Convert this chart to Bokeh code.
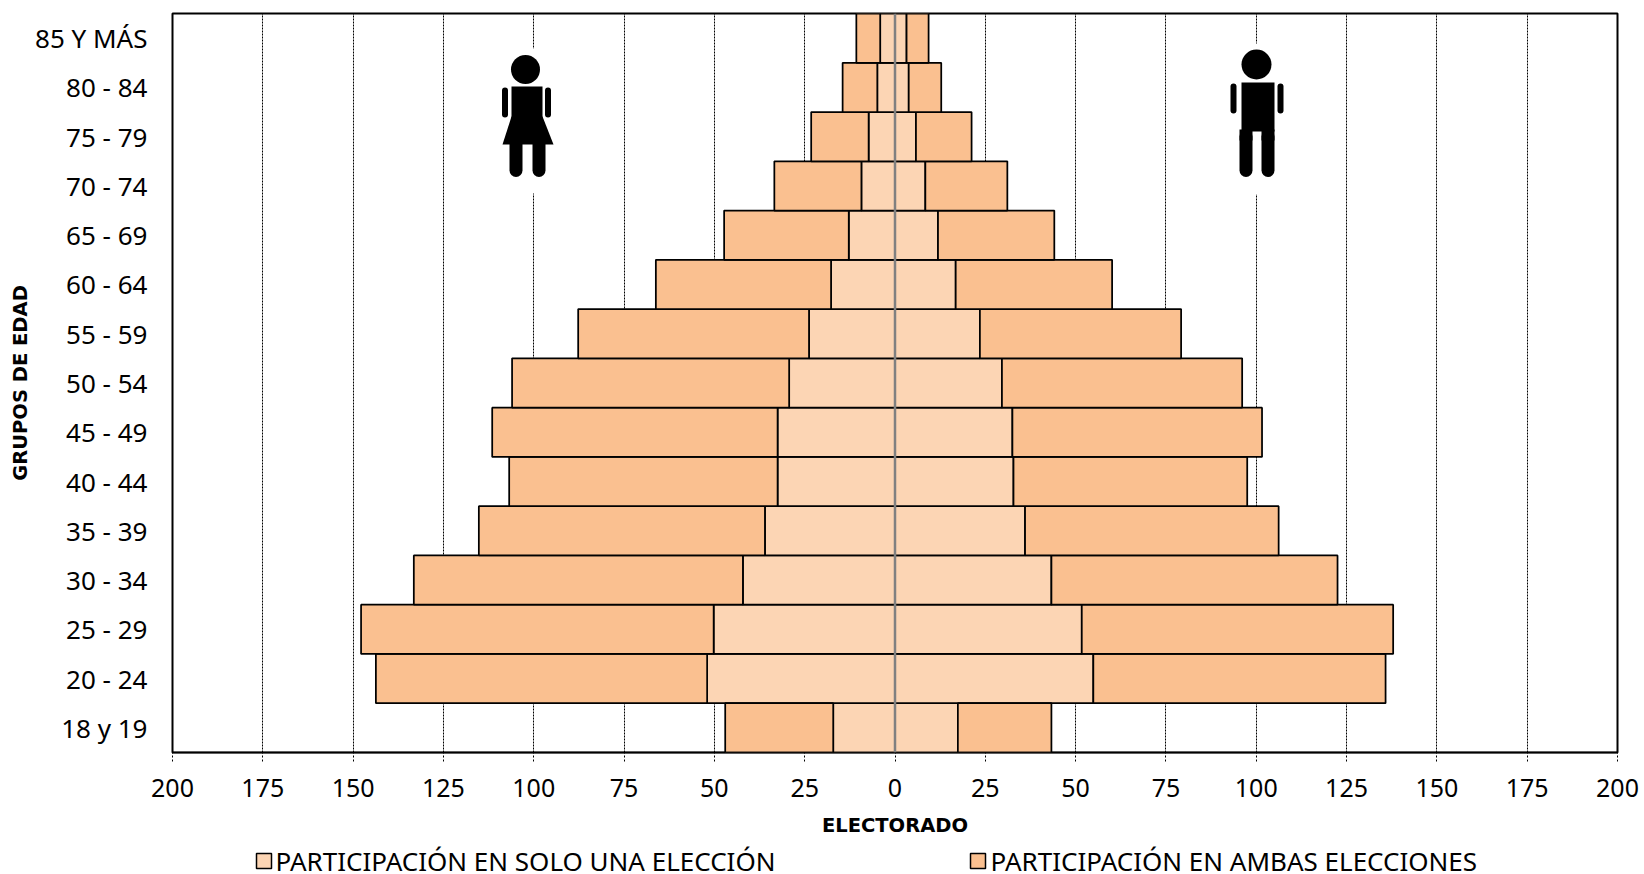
from bokeh.plotting import figure
from bokeh.embed import file_html
from bokeh.resources import INLINE
from bokeh.layouts import column
from bokeh.core.properties import value
from bokeh.models import ColumnDataSource, FixedTicker, Range1d, Span

age_groups = ["18 y 19", "20 - 24", "25 - 29", "30 - 34", "35 - 39", "40 - 44", "45 - 49", "50 - 54",
              "55 - 59", "60 - 64", "65 - 69", "70 - 74", "75 - 79", "80 - 84", "85 Y MÁS"]
women_once = [17.1, 52.0, 50.2, 42.1, 36.0, 32.5, 32.5, 29.3, 23.8, 17.7, 12.8, 9.3, 7.3, 4.9, 4.1]
women_both = [29.9, 91.7, 97.6, 91.1, 79.2, 74.3, 79.0, 76.7, 63.9, 48.5, 34.5, 24.1, 15.9, 9.6, 6.6]
men_once = [17.4, 54.9, 51.7, 43.3, 36.0, 32.8, 32.5, 29.6, 23.5, 16.8, 11.9, 8.4, 5.8, 3.8, 3.2]
men_both = [25.9, 80.9, 86.2, 79.2, 70.2, 64.7, 69.1, 66.5, 55.7, 43.3, 32.2, 22.7, 15.4, 9.0, 6.1]
x_ticks = [-200, -175, -150, -125, -100, -75, -50, -25, 0, 25, 50, 75, 100, 125, 150, 175, 200]
series_names = ["PARTICIPACIÓN EN SOLO UNA ELECCIÓN", "PARTICIPACIÓN EN AMBAS ELECCIONES"]
colour_once = "#FCD5B4"
colour_both = "#FAC090"
FONT = "Noto Sans"
TITLE_FONT = "DejaVu Sans"
WIDTH, HEIGHT, LEG_H = 1644, 840, 34
L, R, T, B = 172, 1617, 13, 752

y = list(range(len(age_groups)))
src = ColumnDataSource(dict(
    y=y,
    w0=[-a for a in women_once],
    w1=[-(a + b) for a, b in zip(women_once, women_both)],
    m0=men_once,
    m1=[a + b for a, b in zip(men_once, men_both)],
    zero=[0] * len(y),
))

p = figure(width=WIDTH, height=HEIGHT, output_backend="svg", toolbar_location=None,
           x_range=Range1d(-200, 200), y_range=Range1d(-0.5, 14.5),
           min_border_left=L, min_border_right=WIDTH - R,
           min_border_top=T, min_border_bottom=HEIGHT - B)

# grid and frame
p.ygrid.visible = False
p.xgrid.ticker = FixedTicker(ticks=x_ticks)
p.xgrid.grid_line_color = "#000000"
p.xgrid.grid_line_dash = "2 1"
p.xgrid.grid_line_width = 1
p.outline_line_color = "#000000"
p.outline_line_width = 2

# axes
xa = p.xaxis[0]
xa.ticker = FixedTicker(ticks=x_ticks)
xa.major_label_overrides = {t: str(abs(t)) for t in x_ticks}
xa.major_label_text_font = FONT
xa.major_label_text_font_size = "25px"
xa.major_label_text_color = "#000000"
xa.major_label_standoff = 17
xa.major_tick_out = 9
xa.major_tick_in = 0
xa.major_tick_line_color = "#000000"
xa.major_tick_line_dash = "2 2"
xa.minor_tick_line_color = None
xa.axis_line_color = "#000000"
xa.axis_line_dash = "1 1"
xa.axis_line_width = 2
xa.axis_label = "ELECTORADO"
xa.axis_label_text_font = TITLE_FONT
xa.axis_label_text_font_style = "bold"
xa.axis_label_text_font_size = "19.5px"
xa.axis_label_text_color = "#000000"
xa.axis_label_standoff = 14

ya = p.yaxis[0]
ya.ticker = FixedTicker(ticks=y)
ya.major_label_overrides = {i: g for i, g in enumerate(age_groups)}
ya.major_label_text_font = FONT
ya.major_label_text_font_size = "26px"
ya.major_label_text_color = "#000000"
ya.major_label_standoff = 19
ya.major_tick_line_color = None
ya.minor_tick_line_color = None
ya.axis_line_color = None
ya.axis_label = "GRUPOS DE EDAD"
ya.axis_label_text_font = TITLE_FONT
ya.axis_label_text_font_style = "bold"
ya.axis_label_text_font_size = "19.5px"
ya.axis_label_text_color = "#000000"
ya.axis_label_standoff = 0

# bars
kw = dict(y="y", height=1.0, source=src, line_color="#000000", line_width=1.75)
p.hbar(left="w0", right="zero", fill_color=colour_once, **kw)
p.hbar(left="w1", right="w0", fill_color=colour_both, **kw)
p.hbar(left="zero", right="m0", fill_color=colour_once, **kw)
p.hbar(left="m0", right="m1", fill_color=colour_both, **kw)
p.add_layout(Span(location=0, dimension="height", line_color="#808080", line_width=2.5))


# pictograms (page pixels converted to data units)
def dx(px):
    return (px - (L + R) / 2) * 400 / (R - L)


def dy(py):
    return 14.5 - (py - T) * 15 / (B - T)


def sx(px):
    return px * 400 / (R - L)


def sy(px):
    return px * 15 / (B - T)


def block(x0, x1, y0, y1, col="#000000"):
    p.quad(left=dx(x0), right=dx(x1), top=dy(y0), bottom=dy(y1), fill_color=col, line_color=None)


def stick(xc, y0, y1, w):
    p.line([dx(xc), dx(xc)], [dy(y0), dy(y1)], line_color="#000000", line_width=w, line_cap="round")


def head(xc, yc, r):
    p.ellipse(x=dx(xc), y=dy(yc), width=sx(2 * r), height=sy(2 * r), fill_color="#000000", line_color=None)


# woman
block(500, 556, 48, 193, "#FFFFFF")
head(525, 69, 14.5)
block(511, 542, 86, 118)
p.patch([dx(511), dx(542), dx(553), dx(502)], [dy(116), dy(116), dy(144), dy(144)],
        fill_color="#000000", line_color=None)
stick(504.5, 90, 114, 6)
stick(547.5, 90, 114, 6)
stick(515.5, 140, 170, 13)
stick(538.5, 140, 170, 13)

# man
block(1226, 1288, 43, 194, "#FFFFFF")
head(1256, 64, 15)
block(1241, 1274, 82, 131)
stick(1233, 86, 110, 6)
stick(1280, 86, 110, 6)
block(1239, 1252, 129, 140)
block(1261, 1274, 129, 140)
stick(1245.5, 136, 170, 13)
stick(1267.5, 136, 170, 13)

# legend strip: its frame lines up with the chart's frame, so its data units are page pixels
leg = figure(width=WIDTH, height=LEG_H, output_backend="svg", toolbar_location=None,
             x_range=Range1d(L, R), y_range=Range1d(HEIGHT + LEG_H, HEIGHT),
             x_axis_type=None, y_axis_type=None,
             min_border_left=L, min_border_right=WIDTH - R, min_border_top=0, min_border_bottom=0)
leg.grid.visible = False
leg.outline_line_color = None
leg.quad(left=[256, 970], right=[271, 985], top=[853, 853], bottom=[868, 868],
         fill_color=[colour_once, colour_both], line_color="#000000", line_width=1.5)
leg.text(x=[275, 990], y=[860, 860], text=series_names, text_font=value(FONT),
         text_font_size="26px", text_color="#000000", text_baseline="middle", text_align="left")

open("out.html", "w").write(file_html(column(p, leg, spacing=0), INLINE))
